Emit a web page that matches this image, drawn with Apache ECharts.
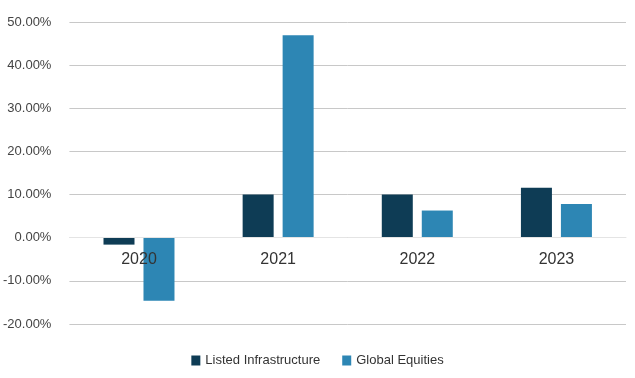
<!DOCTYPE html>
<html><head><meta charset="utf-8">
<script src="https://cdn.jsdelivr.net/npm/echarts@6/dist/echarts.min.js"></script>
<style>html,body{margin:0;padding:0;background:#fff}#c{width:635px;height:378px}</style>
</head><body><div id="c"></div>
<script>
const categories = ['2020', '2021', '2022', '2023'];
const listedInfrastructure = [-1.6, 10.0, 10.0, 11.6];
const globalEquities = [-14.6, 46.9, 6.3, 7.8];
const seriesNames = ['Listed Infrastructure', 'Global Equities'];

const chart = echarts.init(document.getElementById('c'), null, {renderer: 'canvas'});
chart.setOption({
  animation: false,
  backgroundColor: '#ffffff',
  grid: {left: 69, right: 9, top: 22, bottom: 54, containLabel: false},
  legend: {
    bottom: 6, left: 'center', itemWidth: 9, itemHeight: 10, itemGap: 22,
    icon: 'rect',
    textStyle: {color: '#333', fontSize: 13, fontFamily: 'Liberation Sans, Arial, sans-serif'},
    data: seriesNames
  },
  xAxis: {
    type: 'category', data: categories,
    position: 'bottom', offset: -86.3,
    axisLine: {show: true, onZero: false, lineStyle: {color: '#e4e4e4', width: 1}},
    axisTick: {show: false},
    axisLabel: {color: '#333', fontSize: 16, margin: 14, fontFamily: 'Liberation Sans, Arial, sans-serif'},
    z: 10
  },
  yAxis: {
    type: 'value', min: -20, max: 50, interval: 10,
    axisLine: {show: false}, axisTick: {show: false},
    splitLine: {lineStyle: {color: '#c8c8c8', width: 1}},
    axisLabel: {color: '#444', fontSize: 13, margin: 18,
      fontFamily: 'Liberation Sans, Arial, sans-serif',
      formatter: v => v.toFixed(2) + '%'}
  },
  series: [
    {name: seriesNames[0], type: 'bar', data: listedInfrastructure, barWidth: 31, barGap: '29%',
     itemStyle: {color: '#0e3c55'}, z: 2},
    {name: seriesNames[1], type: 'bar', data: globalEquities, barWidth: 31,
     itemStyle: {color: '#2d86b4'}, z: 2}
  ]
});
</script></body></html>
